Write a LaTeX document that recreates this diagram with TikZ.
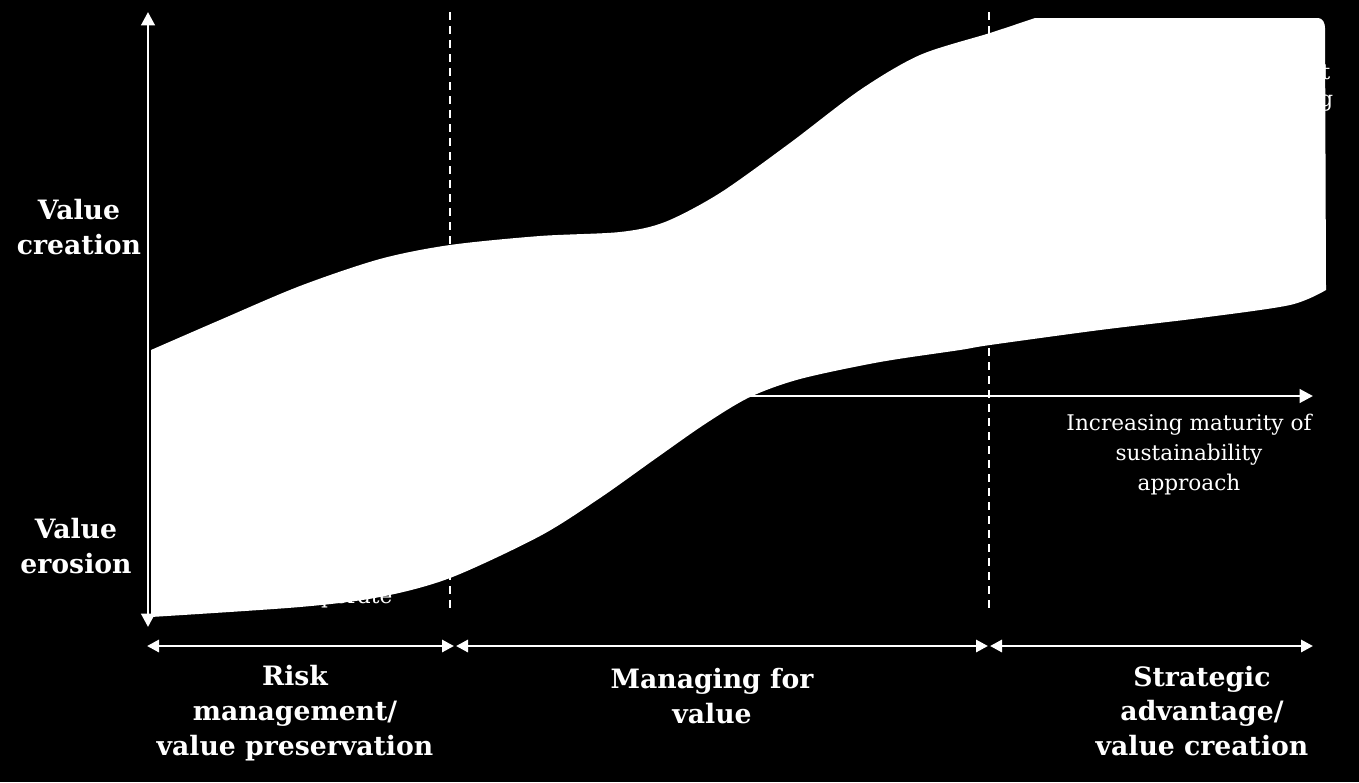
\documentclass[tikz,border=0pt]{standalone}
\usepackage{fontspec}
\setmainfont{DejaVu Serif}
\usetikzlibrary{arrows.meta}
\tikzset{
  axisline/.style={white,line width=2.2pt},
  phaseline/.style={white,line width=1.5pt,dash pattern=on 6pt off 4.5pt},
  stagelabel/.style={white,font=\fontsize{20}{26}\selectfont\bfseries,align=center},
  bodylabel/.style={white,font=\fontsize{16.2}{22.5}\selectfont,align=center}
}
\begin{document}
\begin{tikzpicture}[x=0.75pt,y=-0.75pt]
        % background
        \fill[black] (0,0) rectangle (1359,782);
        \useasboundingbox (0,0) rectangle (1359,782);
        % draw the phase borders
        \draw[phaseline] (450,12) -- (450,610);
        \draw[phaseline] (989,12) -- (989,610);
        % draw the maturity axis
        \coordinate (mstart) at (152,396);
        \coordinate (mend) at (1313,396);
        \draw[axisline,-{Triangle[width=10pt,length=10pt]}] (mstart) -- (mend);
        % text behind the band
        \node[bodylabel,anchor=base east] (operate) at (397,603) {perate};
        \node[bodylabel,anchor=base east] (ttext) at (1335,79) {t};
        \node[bodylabel,anchor=base east] (gtext) at (1338,106) {g};
        % draw the value band
        \fill[white] plot[smooth] coordinates {(151,350) (220,320) (300,286) (380,259) (450,245) (540,236) (620,232) (665,222) (720,193) (790,143) (860,90) (920,55) (990,33) (1035,18)}
          -- (1318,18) to[out=0,in=90] (1325,28) -- (1326,290)
          -- plot[smooth] coordinates {(1326,290) (1290,305) (1200,318) (1100,330) (990,345) (960,350) (880,362) (800,379) (750,397) (705,424) (655,459) (600,498) (540,536) (450,578) (380,597) (300,607) (151,617)}
          -- cycle;
        % draw the value axis
        \coordinate (vtop) at (148,12);
        \coordinate (vbot) at (148,627);
        \draw[axisline,{Triangle[width=10pt,length=10pt]}-{Triangle[width=10pt,length=10pt]}] (vbot) -- (vtop);
        % draw the phase spans
        \coordinate (p0) at (147,646);
        \coordinate (p1) at (454,646);
        \coordinate (p2) at (456,646);
        \coordinate (p3) at (988,646);
        \coordinate (p4) at (990,646);
        \coordinate (p5) at (1313,646);
        \draw[axisline,{Triangle[width=9pt,length=9pt]}-{Triangle[width=9pt,length=9pt]}] (p0) -- (p1);
        \draw[axisline,{Triangle[width=9pt,length=9pt]}-{Triangle[width=9pt,length=9pt]}] (p2) -- (p3);
        \draw[axisline,{Triangle[width=9pt,length=9pt]}-{Triangle[width=9pt,length=9pt]}] (p4) -- (p5);
        % labels
        \node[stagelabel] (creation) at (79,227) {Value\\creation};
        \node[stagelabel] (erosion) at (76,546) {Value\\erosion};
        \node[bodylabel] (maturity) at (1189,455) {Increasing maturity of\\sustainability\\approach};
        \node[stagelabel] (risk) at (295,713) {Risk\\management/\\value preservation};
        \node[stagelabel] (managing) at (712,696) {Managing for\\value};
        \node[stagelabel] (strategic) at (1202,711) {Strategic\\advantage/\\value creation};
    \end{tikzpicture}
\end{document}
